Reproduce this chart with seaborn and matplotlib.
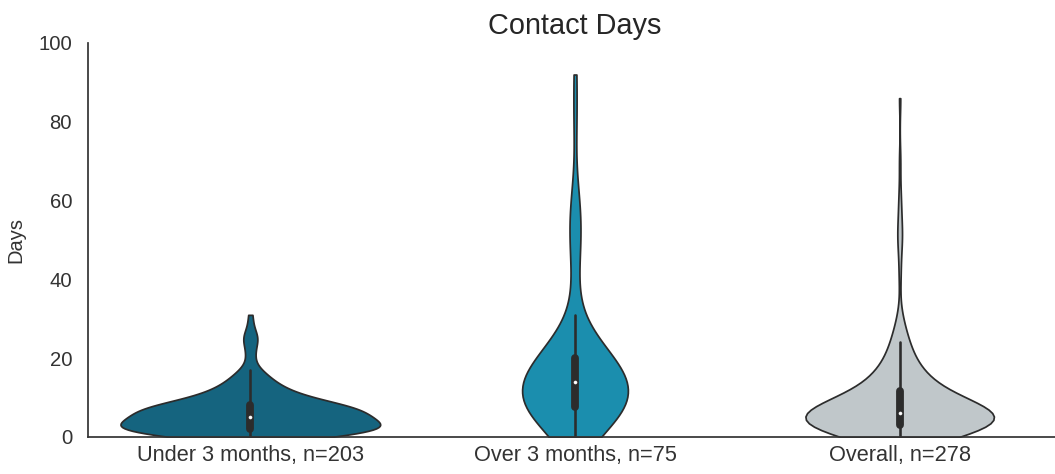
import numpy as np
import pandas as pd
import seaborn as sns
import matplotlib
matplotlib.use("Agg")
import matplotlib.pyplot as plt

# Contact days per client: distinct day values and how many clients had each
group_labels = ["Under 3 months, n=203", "Over 3 months, n=75", "Overall, n=278"]
group_colors = ["#15647f", "#1b8eae", "#c0c7ca"]

under_days = [0, 1, 2, 3, 4, 5, 6, 7, 8, 9, 10, 11, 12, 13, 14, 15, 16, 17,
              19, 21, 22, 24, 25, 26, 28, 31]
under_counts = [14, 20, 20, 20, 16, 14, 16, 17, 16, 8, 8, 6, 5, 4, 3, 3, 2, 2,
                1, 1, 1, 1, 2, 1, 1, 1]

over_days = [0, 1, 2, 3, 4, 5, 6, 7, 8, 9, 10, 11, 12, 13, 14, 15, 16, 17, 18,
             19, 20, 21, 22, 23, 24, 26, 28, 31, 40, 45, 50, 52, 55, 58, 62,
             80, 92]
over_counts = [1, 1, 1, 2, 2, 3, 4, 5, 3, 3, 3, 3, 3, 3, 4, 3, 3, 3, 2,
               2, 3, 2, 2, 1, 1, 1, 1, 1, 1, 1, 1, 1, 1, 1, 1,
               1, 1]

overall_days = [0, 1, 2, 3, 4, 5, 6, 7, 8, 9, 10, 11, 12, 13, 14, 15, 16, 17,
                18, 19, 20, 21, 22, 23, 24, 25, 26, 27, 28, 30, 31, 40, 45,
                50, 52, 55, 58, 62, 70, 86]
overall_counts = [15, 21, 21, 22, 18, 17, 26, 22, 19, 10, 9, 8, 7, 7, 7, 6, 4,
                  4, 3, 3, 3, 3, 2, 2, 1, 2, 2, 1, 1, 1, 1, 1, 1,
                  2, 1, 1, 1, 1, 1, 1]

frames = []
for label, days, counts in zip(group_labels,
                               [under_days, over_days, overall_days],
                               [under_counts, over_counts, overall_counts]):
    frames.append(pd.DataFrame({"group": label,
                                "days": np.repeat(days, counts)}))
df = pd.concat(frames, ignore_index=True)

sns.set_style("white")
plt.rcParams["font.family"] = ["Liberation Sans", "DejaVu Sans"]

fig = plt.figure(figsize=(10.55, 4.74), dpi=100)
ax = fig.add_axes([88 / 1055, 37 / 474, 974 / 1055, 394 / 474])

sns.violinplot(data=df, x="group", y="days", hue="group",
               order=group_labels, hue_order=group_labels,
               palette=group_colors, saturation=1, cut=0, inner="box",
               linewidth=1.25, density_norm="area", common_norm=True,
               inner_kws=dict(marker="o", markersize=2.2, markeredgewidth=0.4),
               legend=False, ax=ax)

ax.set_ylim(0, 100)
ax.set_yticks([0, 20, 40, 60, 80, 100])
ax.set_xlabel("")
ax.set_ylabel("Days", fontsize=14.5, color="#333333", labelpad=9)
ax.set_title("Contact Days", fontsize=20.8, color="#262626", pad=6.5)
ax.tick_params(axis="y", length=0, pad=11.5, labelsize=14.6, labelcolor="#333333")
ax.tick_params(axis="x", length=0, pad=6, labelsize=15.7, labelcolor="#333333")
for side in ["left", "bottom"]:
    ax.spines[side].set_color("#333333")
    ax.spines[side].set_linewidth(1.25)
sns.despine(ax=ax)

fig.savefig("out.png", dpi=100)
